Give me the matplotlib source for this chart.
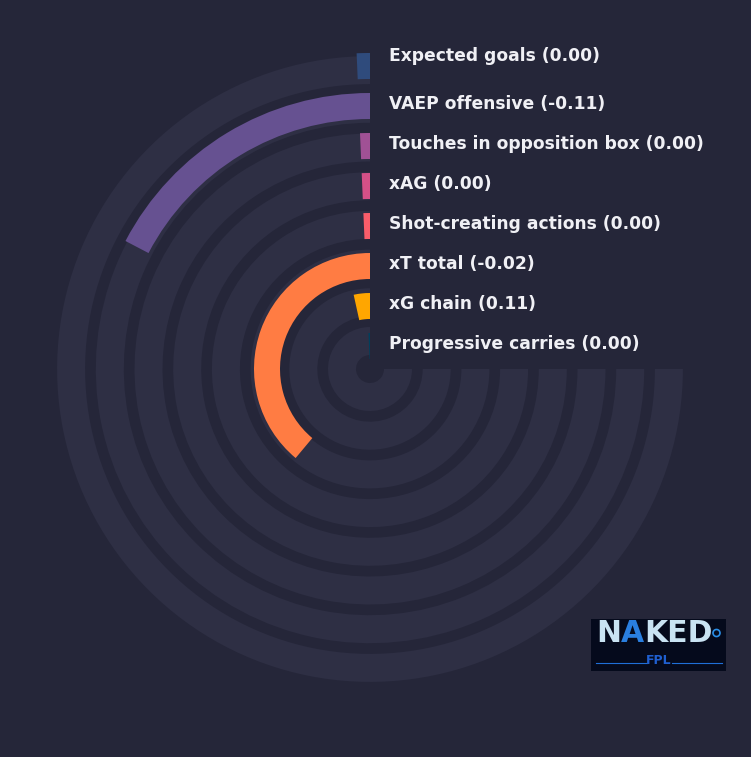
import numpy as np
import matplotlib
matplotlib.use("Agg")
import matplotlib.pyplot as plt
from matplotlib.transforms import offset_copy
from matplotlib.patches import Rectangle, Circle

# metrics from inner ring to outer ring
labels = ["Progressive carries", "xG chain", "xT total", "Shot-creating actions",
          "xAG", "Touches in opposition box", "VAEP offensive", "Expected goals"]
values = [0.00, 0.11, -0.02, 0.00, 0.00, 0.00, -0.11, 0.00]
# bar length as percent of the full 270 degree track
pct = [0.9, 4.6, 51.9, 0.9, 0.9, 0.9, 23.1, 0.9]
colors = ["#003f5c", "#ffa600", "#ff7c43", "#f95d6a",
          "#d45087", "#a05195", "#665191", "#2f4b7c"]

BG = "#252639"
TRACK = "#2e2f44"
W, H = 751, 757
R = 340  # axes radius in pixels, r data == pixels
cx, cy = 370, 369

plt.rcParams["font.family"] = ["DejaVu Sans"]

fig = plt.figure(figsize=(W / 100, H / 100), dpi=100, facecolor=BG)
ax = fig.add_axes([(cx - R) / W, (H - cy - R) / H, 2 * R / W, 2 * R / H],
                  projection="polar")
ax.set_facecolor(BG)
ax.set_theta_zero_location("N")
ax.set_theta_direction(1)
ax.set_rlim(0, R)
ax.axis("off")

full = np.deg2rad(270)
n = len(labels)

# background tracks
for i in range(n):
    ax.bar(0, 28, width=full, bottom=14 + 38.7 * i, align="edge",
           color=TRACK, linewidth=0, zorder=1)

# value bars
for i in range(n):
    ax.bar(0, 26, width=full * pct[i] / 100, bottom=10 + 40 * i, align="edge",
           color=colors[i], linewidth=0, zorder=2)

# labels
lab_tr = offset_copy(ax.transData, fig=fig, x=19, y=0, units="dots")
for i in range(n):
    r_lab = 10 + 40 * i + 13 + (10 if i == n - 1 else 2)
    ax.text(0, r_lab, f"{labels[i]} ({values[i]:.2f})", transform=lab_tr,
            ha="left", va="center", color="#f0f0f5", fontsize=12.3,
            fontweight="bold", zorder=3)

# logo
lx0, ly0, lw, lh = 591 / W, 1 - 671 / H, 135 / W, 52 / H
fig.patches.append(Rectangle((lx0, ly0), lw, lh, transform=fig.transFigure,
                             facecolor="#050a1c", edgecolor="none", zorder=5))
rend = fig.canvas.get_renderer()
xpos = 596
for part, col in [("N", "#c9e3f3"), ("A", "#2a7fe0"), ("KED", "#c9e3f3")]:
    t = fig.text(xpos / W, 1 - 634 / H, part, ha="left", va="center",
                 color=col, fontsize=21.5, fontweight="bold", zorder=6)
    xpos += t.get_window_extent(rend).width
fig.patches.append(Circle(((xpos + 4) / W, 1 - 633 / H), 3.5 / W,
                          transform=fig.transFigure, facecolor="none",
                          edgecolor="#2a8fe8", linewidth=1.2, zorder=6))
fig.text(lx0 + lw / 2, 1 - 661 / H, "FPL", ha="center", va="center",
         color="#1f5fd0", fontsize=9, fontweight="bold", zorder=6)
for xa, xb in [(596, 647), (672, 722)]:
    fig.add_artist(plt.Line2D([xa / W, xb / W], [1 - 663 / H, 1 - 663 / H],
                              transform=fig.transFigure, color="#1f6fd8",
                              linewidth=0.8, zorder=6))

fig.savefig("out.png", dpi=100, facecolor=BG)
